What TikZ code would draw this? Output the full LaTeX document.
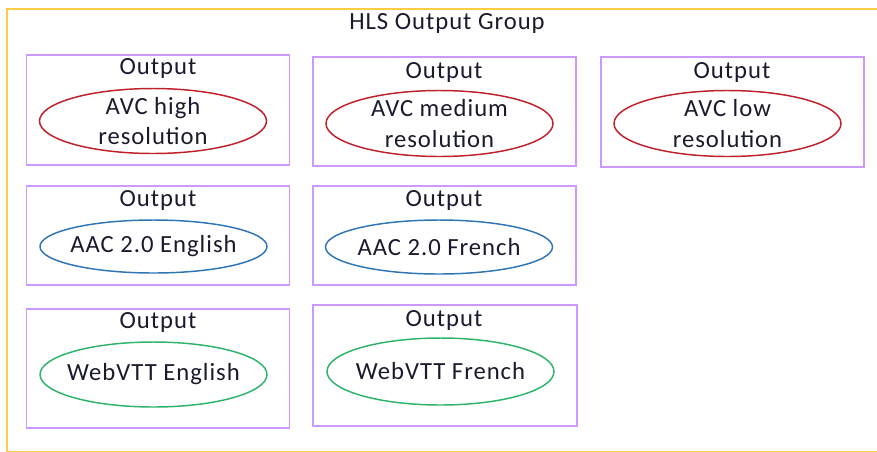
\documentclass[tikz,border=0pt]{standalone}
\usepackage{fontspec}
\setmainfont{Carlito}[LetterSpace=4]
\usetikzlibrary{shapes.geometric}
\definecolor{groupyellow}{HTML}{FFCC44}
\definecolor{outpurple}{HTML}{CC99FF}
\definecolor{avcred}{HTML}{C0202A}
\definecolor{aacblue}{HTML}{2E75B6}
\definecolor{vttgreen}{HTML}{2EB36A}
\definecolor{txt}{HTML}{1A1A2E}
\tikzset{
  outbox/.style 2 args={draw=outpurple, line width=1.3pt, rectangle, inner sep=0pt,
    minimum width=#1*0.75pt, minimum height=#2*0.75pt},
  streamell/.style 2 args={draw=#1, line width=1.1pt, ellipse, inner xsep=-40pt, inner ysep=-20pt,
    minimum width=227*0.75pt, minimum height=#2*0.75pt, text=txt, align=center,
    font=\fontsize{18.5}{23}\selectfont},
  lbl/.style={text=txt, font=\fontsize{18.5}{23}\selectfont, inner sep=0pt},
}
\begin{document}
\begin{tikzpicture}[x=0.75pt,y=-0.75pt]
\useasboundingbox (0,0) rectangle (877,451);
\begin{scope}
\clip (0,0) rectangle (877,451);
\coordinate (gtr) at (960,9);
\coordinate (gtl) at (7,9);
\coordinate (gbl) at (7,452.3);
\coordinate (gbr) at (960,452.3);
\draw[groupyellow, line width=2pt] (gtr) -- (gtl) -- (gbl) -- (gbr);
\end{scope}
\node[lbl] (title) at (447,23) {HLS Output Group};
% row 1
\node[outbox={263}{110}] (b1) at (158,110) {};
\node[outbox={263}{109}] (b2) at (444.5,111.5) {};
\node[outbox={263}{110}] (b3) at (732.5,112) {};
% row 2
\node[outbox={263}{99}] (b4) at (158,235.5) {};
\node[outbox={263}{99}] (b5) at (444.5,235.5) {};
% row 3
\node[outbox={263}{119}] (b6) at (158,368.5) {};
\node[outbox={264}{121}] (b7) at (445,365.5) {};
% labels
\node[lbl] (l1) at (158,68) {Output};
\node[lbl] (l2) at (444,72) {Output};
\node[lbl] (l3) at (732,72) {Output};
\node[lbl] (l4) at (158,200) {Output};
\node[lbl] (l5) at (444,200) {Output};
\node[lbl] (l6) at (158,322) {Output};
\node[lbl] (l7) at (444,320) {Output};
% ellipses
\node[streamell={avcred}{65}] (e1) at (153,121) {AVC high\\resolution};
\node[streamell={avcred}{66}] (e2) at (439.5,123.5) {AVC medium\\resolution};
\node[streamell={avcred}{66}] (e3) at (727.5,123.5) {AVC low\\resolution};
\node[streamell={aacblue}{53}] (e4) at (153.5,246.5) {AAC 2.0 English};
\node[streamell={aacblue}{54}] (e5) at (439,247) {AAC 2.0 French};
\node[streamell={vttgreen}{65}] (e6) at (153.5,374.5) {WebVTT English};
\node[streamell={vttgreen}{67}] (e7) at (440.5,371.5) {WebVTT French};
\end{tikzpicture}
\end{document}
